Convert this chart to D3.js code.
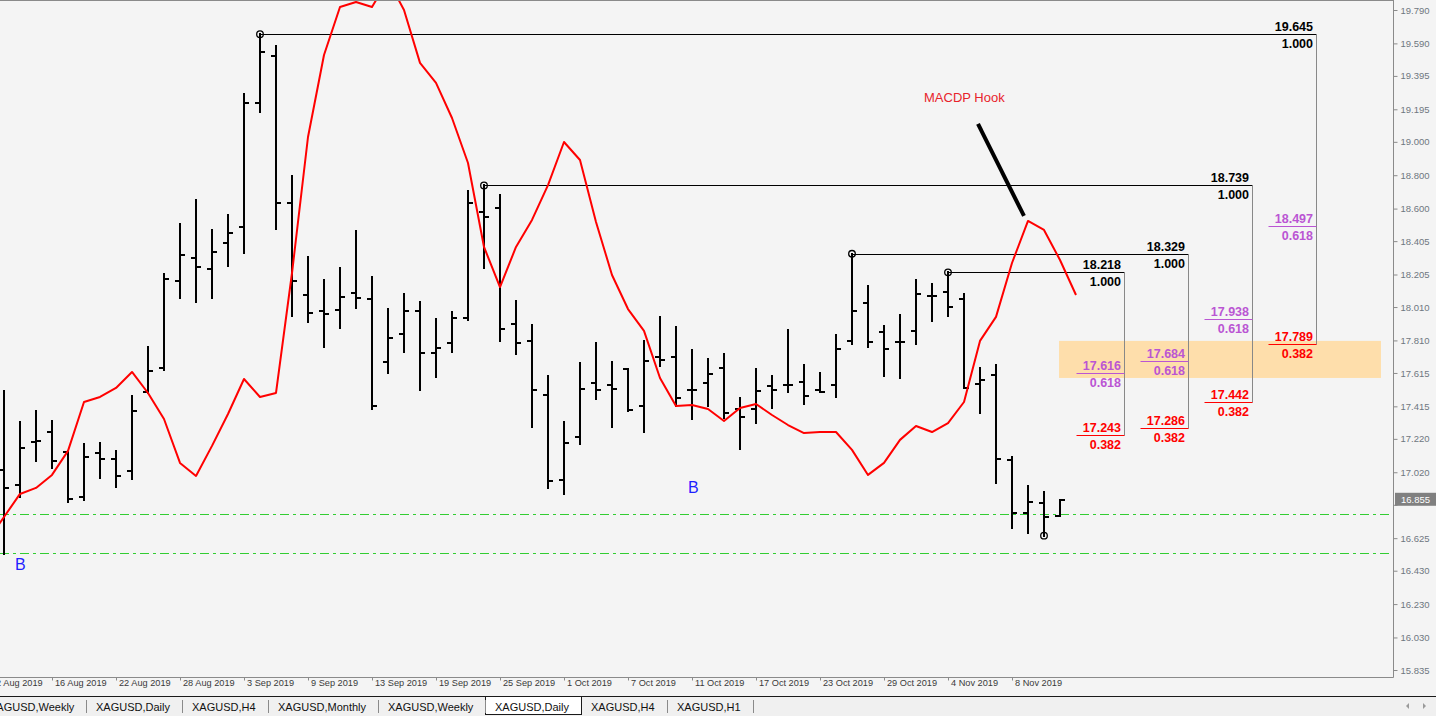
<!DOCTYPE html>
<html><head><meta charset="utf-8">
<script src="https://cdn.jsdelivr.net/npm/d3@7"></script>
<style>
html,body{margin:0;padding:0;background:#f4f4f4;overflow:hidden;}
svg{display:block;font-family:"Liberation Sans",Arial,sans-serif;}
</style></head><body>
<svg id="c" width="1436" height="716"></svg>
<script>
// ---------- DATA ----------
const dates = ["13 Aug 2019","14 Aug 2019","15 Aug 2019","16 Aug 2019","19 Aug 2019","20 Aug 2019","21 Aug 2019","22 Aug 2019","23 Aug 2019","26 Aug 2019",
"27 Aug 2019","28 Aug 2019","29 Aug 2019","30 Aug 2019","2 Sep 2019","3 Sep 2019","4 Sep 2019","5 Sep 2019","6 Sep 2019","9 Sep 2019",
"10 Sep 2019","11 Sep 2019","12 Sep 2019","13 Sep 2019","16 Sep 2019","17 Sep 2019","18 Sep 2019","19 Sep 2019","20 Sep 2019","23 Sep 2019",
"24 Sep 2019","25 Sep 2019","26 Sep 2019","27 Sep 2019","30 Sep 2019","1 Oct 2019","2 Oct 2019","3 Oct 2019","4 Oct 2019","7 Oct 2019",
"8 Oct 2019","9 Oct 2019","10 Oct 2019","11 Oct 2019","14 Oct 2019","15 Oct 2019","16 Oct 2019","17 Oct 2019","18 Oct 2019","21 Oct 2019",
"22 Oct 2019","23 Oct 2019","24 Oct 2019","25 Oct 2019","28 Oct 2019","29 Oct 2019","30 Oct 2019","31 Oct 2019","1 Nov 2019","4 Nov 2019",
"5 Nov 2019","6 Nov 2019","7 Nov 2019","8 Nov 2019","11 Nov 2019","12 Nov 2019","13 Nov 2019"];

const open = [17.034,16.944,17.202,17.261,17.142,16.872,17.136,17.100,17.028,17.501,
17.645,18.166,18.304,18.238,18.394,18.490,19.233,19.514,18.634,18.082,
17.986,17.992,18.094,18.058,17.681,17.849,17.986,17.735,17.795,17.945,
18.580,18.604,17.909,17.807,17.483,16.974,17.231,17.555,17.543,17.639,
17.417,17.711,17.711,17.513,17.555,17.645,17.399,17.399,17.537,17.543,
17.561,17.513,17.543,17.807,18.034,17.861,17.801,17.867,18.076,18.100,
18.058,17.549,17.603,17.094,16.776,16.836,16.758];

const high = [17.507,17.321,17.387,17.327,17.148,17.190,17.196,17.148,17.477,17.771,
18.208,18.508,18.652,18.472,18.562,19.287,19.645,19.574,18.795,18.310,
18.172,18.244,18.466,18.190,17.998,18.088,18.040,17.939,17.980,18.706,
18.739,18.682,18.046,17.903,17.597,17.321,17.675,17.795,17.681,17.639,
17.807,17.951,17.891,17.753,17.699,17.729,17.465,17.639,17.597,17.873,
17.663,17.615,17.843,18.329,18.136,17.897,17.963,18.172,18.148,18.218,
18.088,17.645,17.663,17.112,16.938,16.902,16.855];

const low = [16.530,16.872,17.088,17.046,16.842,16.854,16.986,16.932,16.980,17.495,
17.633,18.064,18.040,18.064,18.256,18.334,19.179,18.478,17.957,17.921,
17.771,17.885,18.004,17.399,17.615,17.741,17.513,17.591,17.741,17.933,
18.244,17.807,17.729,17.291,16.926,16.890,17.190,17.459,17.291,17.387,
17.261,17.657,17.417,17.339,17.417,17.345,17.160,17.315,17.405,17.501,
17.429,17.501,17.471,17.789,17.771,17.597,17.585,17.789,17.927,17.957,
17.525,17.375,16.956,16.686,16.656,16.640,16.758];

const close = [16.926,17.166,17.208,17.088,16.860,17.112,17.100,16.998,17.387,17.627,
18.178,18.322,18.250,18.340,18.454,19.233,19.538,18.634,18.166,17.974,
17.969,18.070,18.064,17.417,17.825,17.986,17.735,17.765,17.945,18.634,
18.550,17.879,17.795,17.513,16.968,17.196,17.519,17.513,17.519,17.393,
17.687,17.693,17.465,17.513,17.609,17.375,17.351,17.507,17.513,17.543,
17.477,17.501,17.759,17.986,17.801,17.759,17.801,18.088,18.076,18.010,
17.525,17.573,17.100,16.776,16.842,16.752,16.855];

// indicator (red line), shifted one bar forward: first value belongs to bar index -1
const indicatorFirstBar = -1;
const indicator = [16.614,16.752,16.890,16.926,17.004,17.148,17.441,17.471,17.525,17.621,
17.495,17.339,17.076,16.998,17.178,17.369,17.579,17.471,17.495,18.214,
19.029,19.520,19.808,19.838,19.808,19.970,19.790,19.473,19.353,19.143,
18.873,18.370,18.130,18.370,18.532,18.741,18.999,18.891,18.520,18.202,
17.998,17.867,17.585,17.417,17.423,17.399,17.327,17.405,17.429,17.363,
17.303,17.255,17.261,17.261,17.154,17.004,17.076,17.214,17.297,17.261,
17.315,17.441,17.807,17.951,18.274,18.526,18.472,18.292,18.082];

const priceTicks = [19.790,19.590,19.395,19.195,19.000,18.800,18.600,18.405,18.205,18.010,
17.810,17.615,17.415,17.220,17.020,16.825,16.625,16.430,16.230,16.030,15.835];

const timeTickBars = [-1,3,7,11,15,19,23,27,31,35,39,43,47,51,55,59,63];
const timeTickLabels = ["12 Aug 2019","16 Aug 2019","22 Aug 2019","28 Aug 2019","3 Sep 2019","9 Sep 2019",
"13 Sep 2019","19 Sep 2019","25 Sep 2019","1 Oct 2019","7 Oct 2019","11 Oct 2019","17 Oct 2019",
"23 Oct 2019","29 Oct 2019","4 Nov 2019","8 Nov 2019"];

// Fibonacci retracements
const fibStartBar = [16, 30, 53, 59];
const fibEndBar   = [82, 78, 74, 70];
const fibHigh     = [19.645, 18.739, 18.329, 18.218];
const fib618      = [18.497, 17.938, 17.684, 17.616];
const fib382      = [17.789, 17.442, 17.286, 17.243];
const swingLowBar = 65, swingLowPrice = 16.640;

const hLines = [16.770, 16.537];
const zonePrices = [17.585, 17.807];
const zoneBars = [65.94, 86.06];
const lastPrice = 16.855;

const hookLine = [[60.875, 19.107], [63.75, 18.556]];
const hookText = {bar: 57.5, price: 19.239, text: "MACDP Hook"};
const bLabels = [{bar: 0.69, price: 16.435}, {bar: 42.75, price: 16.894}];

const tabs = ["XAGUSD,Weekly","XAGUSD,Daily","XAGUSD,H4","XAGUSD,Monthly","XAGUSD,Weekly","XAGUSD,Daily","XAGUSD,H4","XAGUSD,H1"];
const activeTab = 5;

// ---------- LAYOUT ----------
const W = 1436, H = 716;
const plotR = 1393, plotB = 677;
const svg = d3.select("#c");
const x = d3.scaleLinear().domain([0, 66]).range([4, 1060]);
const y = d3.scaleLinear().domain([15.835, 19.790]).range([670, 10]);

svg.append("rect").attr("width", W).attr("height", H).attr("fill", "#f4f4f4");
svg.append("defs").append("clipPath").attr("id", "clip")
  .append("rect").attr("x", 0).attr("y", 0).attr("width", plotR).attr("height", plotB);

const plot = svg.append("g").attr("clip-path", "url(#clip)");

// zone
plot.append("rect")
  .attr("x", x(zoneBars[0])).attr("width", x(zoneBars[1]) - x(zoneBars[0]))
  .attr("y", y(zonePrices[1])).attr("height", y(zonePrices[0]) - y(zonePrices[1]))
  .attr("fill", "#fedeab");

// horizontal dash-dot lines
plot.selectAll(".hl").data(hLines).join("line")
  .attr("x1", 0).attr("x2", plotR)
  .attr("y1", d => Math.round(y(d)) + 0.5).attr("y2", d => Math.round(y(d)) + 0.5)
  .attr("stroke", "#32cd32").attr("stroke-width", 1).attr("stroke-dasharray", "9,4,3,4");

// fib lines
const fibIdx = d3.range(fibHigh.length);
const fg = plot.append("g");
fibIdx.forEach(k => {
  const xe = Math.round(x(fibEndBar[k])) + 0.5;
  const yh = Math.round(y(fibHigh[k])) + 0.5;
  fg.append("line").attr("x1", x(fibStartBar[k])).attr("x2", xe).attr("y1", yh).attr("y2", yh)
    .attr("stroke", "#000").attr("stroke-width", 1);
  fg.append("line").attr("x1", xe).attr("x2", xe).attr("y1", yh).attr("y2", Math.round(y(fib382[k])) + 0.5)
    .attr("stroke", "#888").attr("stroke-width", 1);
  const levels = [
    {v: fib618[k], r: "0.618", c: "#ba55d3"},
    {v: fib382[k], r: "0.382", c: "#ff0000"}
  ];
  levels.forEach(L => {
    const yy = Math.round(y(L.v)) + 0.5;
    fg.append("line").attr("x1", xe - 48).attr("x2", xe).attr("y1", yy).attr("y2", yy)
      .attr("stroke", L.c).attr("stroke-width", 1.2);
    fg.append("text").attr("x", xe - 3.5).attr("y", yy - 4).attr("text-anchor", "end")
      .attr("font-size", 12.5).attr("font-weight", "bold").attr("fill", L.c).text(L.v.toFixed(3));
    fg.append("text").attr("x", xe - 3.5).attr("y", yy + 13.5).attr("text-anchor", "end")
      .attr("font-size", 12.5).attr("font-weight", "bold").attr("fill", L.c).text(L.r);
  });
  fg.append("text").attr("x", xe - 3.5).attr("y", yh - 4).attr("text-anchor", "end")
    .attr("font-size", 12.5).attr("font-weight", "bold").attr("fill", "#000").text(fibHigh[k].toFixed(3));
  fg.append("text").attr("x", xe - 3.5).attr("y", yh + 13.5).attr("text-anchor", "end")
    .attr("font-size", 12.5).attr("font-weight", "bold").attr("fill", "#000").text("1.000");
});

// OHLC bars
const bars = d3.range(dates.length);
const bg = plot.append("g").attr("stroke", "#000").attr("stroke-width", 2).attr("shape-rendering", "crispEdges");
bg.selectAll(".v").data(bars).join("line")
  .attr("x1", i => x(i)).attr("x2", i => x(i))
  .attr("y1", i => Math.round(y(high[i])) - 1).attr("y2", i => Math.round(y(low[i])) + 1);
bg.selectAll(".o").data(bars).join("line")
  .attr("x1", i => x(i) - 5).attr("x2", i => x(i))
  .attr("y1", i => Math.round(y(open[i]))).attr("y2", i => Math.round(y(open[i])));
bg.selectAll(".cl").data(bars).join("line")
  .attr("x1", i => x(i)).attr("x2", i => x(i) + 5)
  .attr("y1", i => Math.round(y(close[i]))).attr("y2", i => Math.round(y(close[i])));

// indicator line
plot.append("path")
  .datum(indicator)
  .attr("fill", "none").attr("stroke", "#ff0000").attr("stroke-width", 2).attr("stroke-linejoin", "round")
  .attr("d", d3.line().x((d, i) => x(i + indicatorFirstBar)).y(d => y(d)));

// swing circles
const circ = fibIdx.map(k => ({bar: fibStartBar[k], p: fibHigh[k]})).concat([{bar: swingLowBar, p: swingLowPrice}]);
plot.selectAll(".sc").data(circ).join("circle")
  .attr("cx", d => x(d.bar)).attr("cy", d => y(d.p)).attr("r", 3.3)
  .attr("fill", "none").attr("stroke", "#000").attr("stroke-width", 1.3);

// hook line + text
plot.append("line")
  .attr("x1", x(hookLine[0][0])).attr("y1", y(hookLine[0][1]))
  .attr("x2", x(hookLine[1][0])).attr("y2", y(hookLine[1][1]))
  .attr("stroke", "#000").attr("stroke-width", 4);
plot.append("text").attr("x", x(hookText.bar)).attr("y", y(hookText.price))
  .attr("font-size", 13).attr("fill", "#e8232b").text(hookText.text);

plot.selectAll(".bl").data(bLabels).join("text")
  .attr("x", d => x(d.bar)).attr("y", d => y(d.price))
  .attr("font-size", 16).attr("fill", "#1f1fff").text("B");

// frame
svg.append("line").attr("x1", 0).attr("x2", plotR).attr("y1", 0.5).attr("y2", 0.5).attr("stroke", "#8a8a8a");
svg.append("line").attr("x1", 0).attr("x2", plotR + 0.5).attr("y1", plotB + 0.5).attr("y2", plotB + 0.5).attr("stroke", "#8a8a8a");
svg.append("line").attr("x1", plotR + 0.5).attr("x2", plotR + 0.5).attr("y1", 0).attr("y2", plotB + 0.5).attr("stroke", "#8a8a8a");

// right axis
const ra = svg.append("g").attr("transform", `translate(${plotR + 0.5},0)`)
  .call(d3.axisRight(y).tickValues(priceTicks).tickFormat(d3.format(".3f")).tickSize(4).tickPadding(3));
ra.select(".domain").remove();
ra.selectAll(".tick line").attr("stroke", "#8a8a8a");
ra.selectAll(".tick text").attr("font-size", 9.5).attr("fill", "#6f7780").attr("font-family", "Liberation Sans, Arial, sans-serif");
// the label under the last-price box is hidden by it
ra.selectAll(".tick text").filter(d => Math.abs(y(d) - y(lastPrice)) < 9).remove();

// last price box
const lp = svg.append("g").attr("transform", `translate(${plotR + 1},${y(lastPrice)})`);
lp.append("rect").attr("x", 1).attr("y", -7).attr("width", 41).attr("height", 13).attr("fill", "#808080");
lp.append("text").attr("x", 7).attr("y", 0).attr("dy", "0.33em").attr("font-size", 9.5).attr("fill", "#fff").text(lastPrice.toFixed(3));

// bottom axis
const ba = svg.append("g").attr("transform", `translate(0,${plotB + 0.5})`)
  .call(d3.axisBottom(x).tickValues(timeTickBars).tickFormat((d, i) => timeTickLabels[i]).tickSize(3).tickPadding(0));
ba.select(".domain").remove();
ba.selectAll(".tick line").attr("stroke", "#8a8a8a");
ba.selectAll(".tick text").attr("text-anchor", "start").attr("x", 2.5).attr("y", 1.5).attr("dy", "0.71em")
  .attr("font-size", 9.2).attr("fill", "#3a3a3a").attr("font-family", "Liberation Sans, Arial, sans-serif");

// tab bar
const tb = svg.append("g");
tb.append("rect").attr("x", 0).attr("y", 696).attr("width", W).attr("height", 20).attr("fill", "#f0f0f0");
tb.append("line").attr("x1", 0).attr("x2", W).attr("y1", 696.5).attr("y2", 696.5).attr("stroke", "#1a1a1a").attr("stroke-width", 1.2);
let sep = -20.5;
tabs.forEach((t, i) => {
  const tx = tb.append("text").attr("x", sep + 9.5).attr("y", 710.5).attr("font-size", 11).attr("fill", "#111").text(t);
  const w = tx.node().getComputedTextLength();
  const next = Math.round(sep + 9.5 + w + 12) + 0.5;
  if (i === activeTab) {
    tb.insert("rect", "text").attr("x", sep).attr("y", 696.5).attr("width", next - sep).attr("height", 18)
      .attr("fill", "#fff").attr("stroke", "#1a1a1a").attr("stroke-width", 1);
  } else {
    tb.append("line").attr("x1", next).attr("x2", next).attr("y1", 700).attr("y2", 713).attr("stroke", "#8a8a8a");
  }
  sep = next;
});
// scroll arrows
tb.append("path").attr("d", "M1409,703 L1406,706 L1409,709 Z").attr("fill", "#9a9a9a");
tb.append("path").attr("d", "M1423,703 L1426,706 L1423,709 Z").attr("fill", "#9a9a9a");
</script>
</body></html>
